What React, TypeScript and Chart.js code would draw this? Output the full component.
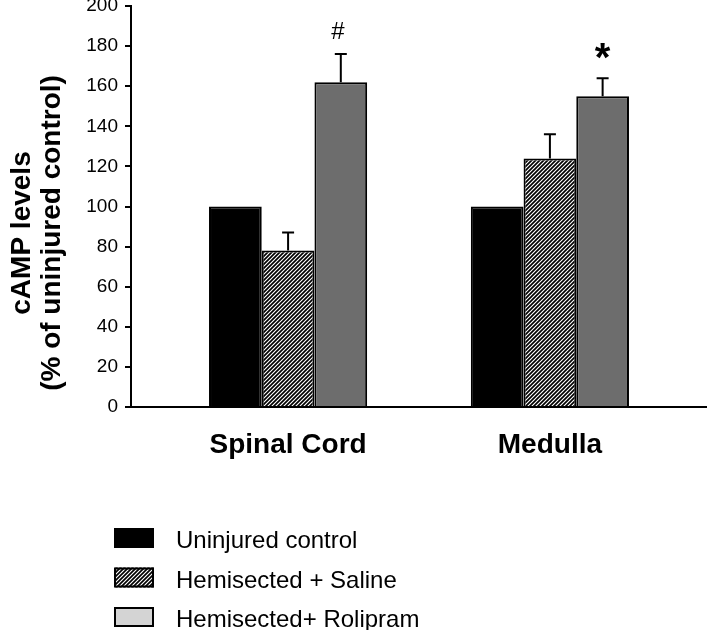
import React, { useEffect, useRef } from 'react';
import { Chart, registerables } from 'chart.js';

Chart.register(...registerables);

// ---- data ----
const categories = ['Spinal Cord', 'Medulla'];
const categoryPositions = [0.6, 1.6];
const seriesNames = ['Uninjured control', 'Hemisected + Saline', 'Hemisected+ Rolipram'];
const uninjuredValues = [100, 100];
const salineValues = [78, 124];
const rolipramValues = [162, 155];
const uninjuredErrors = [0, 0];
const salineErrors = [9, 12];
const rolipramErrors = [14, 9];
const rolipramMarks = ['#', '*'];
const yTickValues = [0, 20, 40, 60, 80, 100, 120, 140, 160, 180, 200];
const yTitleLines = ['cAMP levels', '(% of uninjured control)'];

const seriesValues = [uninjuredValues, salineValues, rolipramValues];
const seriesErrors = [uninjuredErrors, salineErrors, rolipramErrors];

const FONT = "'Liberation Sans', Arial, Helvetica, sans-serif";

function makeHatch(ctx: CanvasRenderingContext2D) {
  const s = 4;
  const p = document.createElement('canvas');
  p.width = s;
  p.height = s;
  const c = p.getContext('2d')!;
  c.fillStyle = '#ffffff';
  c.fillRect(0, 0, s, s);
  c.strokeStyle = '#000000';
  c.lineWidth = 1.7;
  c.beginPath();
  c.moveTo(0, s);
  c.lineTo(s, 0);
  c.moveTo(-1, 1);
  c.lineTo(1, -1);
  c.moveTo(s - 1, s + 1);
  c.lineTo(s + 1, s - 1);
  c.stroke();
  return ctx.createPattern(p, 'repeat')!;
}

export default function App() {
  const ref = useRef<HTMLCanvasElement | null>(null);

  useEffect(() => {
    const canvas = ref.current;
    if (!canvas) return;
    const ctx = canvas.getContext('2d')!;
    const hatch = makeHatch(ctx);
    const barFills: any[] = ['#000000', hatch, '#6d6d6d'];
    const legendFills: any[] = ['#000000', hatch, '#d4d4d4'];

    const errorBars = {
      id: 'errorBars',
      afterDatasetsDraw(chart: any) {
        const c = chart.ctx;
        const y = chart.scales.y;
        seriesErrors.forEach((errs, k) => {
          const meta = chart.getDatasetMeta(k);
          meta.data.forEach((bar: any, i: number) => {
            const e = errs[i];
            if (!e) return;
            const v = seriesValues[k][i];
            const yTop = y.getPixelForValue(v + e);
            const yBase = y.getPixelForValue(v);
            c.save();
            c.strokeStyle = '#000';
            c.lineWidth = 2;
            c.beginPath();
            c.moveTo(bar.x, yBase);
            c.lineTo(bar.x, yTop);
            c.moveTo(bar.x - 6, yTop);
            c.lineTo(bar.x + 6, yTop);
            c.stroke();
            c.restore();
          });
        });
        // significance marks above rolipram bars
        const meta = chart.getDatasetMeta(2);
        meta.data.forEach((bar: any, i: number) => {
          const mark = rolipramMarks[i];
          if (!mark) return;
          const yTop = y.getPixelForValue(rolipramValues[i] + rolipramErrors[i]);
          c.save();
          c.fillStyle = '#000';
          c.textAlign = 'center';
          c.textBaseline = 'alphabetic';
          if (mark === '*') {
            c.font = `bold 40px ${FONT}`;
            c.fillText(mark, bar.x, yTop - 7);
          } else {
            c.font = `24px ${FONT}`;
            c.fillText(mark, bar.x - 3, yTop - 15);
          }
          c.restore();
        });
      },
    };

    const yTitle = {
      id: 'yTitle',
      afterDraw(chart: any) {
        const c = chart.ctx;
        const cy = 233;
        const baselines = [30, 60];
        c.save();
        c.fillStyle = '#000';
        c.font = `bold 28px ${FONT}`;
        c.textAlign = 'center';
        c.textBaseline = 'alphabetic';
        yTitleLines.forEach((line, i) => {
          c.save();
          c.translate(baselines[i], cy);
          c.rotate(-Math.PI / 2);
          c.fillText(line, 0, 0);
          c.restore();
        });
        c.restore();
      },
    };

    const legendBox = {
      id: 'legendBox',
      afterDraw(chart: any) {
        const c = chart.ctx;
        const left = 114;
        const top = 528;
        const rowGap = 39.5;
        const w = 40;
        const h = 20;
        c.save();
        seriesNames.forEach((name, k) => {
          const yTop = top + k * rowGap;
          c.fillStyle = legendFills[k];
          c.fillRect(left, yTop, w, h);
          c.strokeStyle = '#000';
          c.lineWidth = 2;
          c.strokeRect(left + 1, yTop + 1, w - 2, h - 2);
          c.fillStyle = '#000';
          c.font = `24px ${FONT}`;
          c.textAlign = 'left';
          c.textBaseline = 'alphabetic';
          c.fillText(name, 176, yTop + h);
        });
        c.restore();
      },
    };

    const chart = new Chart(canvas, {
      type: 'bar',
      data: {
        datasets: seriesNames.map((name, k) => ({
          label: name,
          data: categoryPositions.map((x, i) => ({ x, y: seriesValues[k][i] })),
          backgroundColor: barFills[k],
          borderColor: '#000000',
          borderWidth: 2,
          categoryPercentage: 0.604,
          barPercentage: 1.0,
        })),
      },
      options: {
        animation: false,
        responsive: false,
        maintainAspectRatio: false,
        devicePixelRatio: 1,
        layout: { padding: { top: 6, left: 0, right: 0, bottom: 0 } },
        plugins: {
          legend: { display: false },
          tooltip: { enabled: false },
          title: { display: false },
        },
        scales: {
          x: {
            type: 'linear',
            min: 0,
            max: 2.2,
            offset: false,
            grid: { display: false, drawTicks: false },
            border: { display: true, color: '#000', width: 2 },
            afterBuildTicks: (s: any) => {
              s.ticks = categoryPositions.map((v) => ({ value: v }));
            },
            afterFit: (s: any) => {
              s.height = 223;
              s.paddingLeft = 0;
              s.paddingRight = 0;
            },
            ticks: {
              autoSkip: false,
              maxRotation: 0,
              minRotation: 0,
              padding: 21,
              color: '#000',
              font: { family: FONT, size: 28, weight: 'bold' },
              callback: (_v: any, i: number) => categories[i],
            },
          },
          y: {
            min: 0,
            max: 200,
            afterBuildTicks: (s: any) => {
              s.ticks = yTickValues.map((v) => ({ value: v }));
            },
            afterFit: (s: any) => {
              s.width = 131;
              s.paddingTop = 0;
              s.paddingBottom = 0;
            },
            grid: {
              drawOnChartArea: false,
              drawTicks: true,
              tickLength: 6,
              color: '#000',
              lineWidth: 2,
            },
            border: { display: true, color: '#000', width: 2 },
            ticks: {
              padding: 7,
              color: '#000',
              font: { family: FONT, size: 19 },
            },
          },
        },
      } as any,
      plugins: [errorBars, yTitle, legendBox],
    });

    return () => chart.destroy();
  }, []);

  return (
    <div
      style={{
        position: 'fixed',
        left: 0,
        top: 0,
        width: 707,
        height: 630,
        background: '#ffffff',
      }}
    >
      <canvas ref={ref} width={707} height={630} style={{ display: 'block', width: 707, height: 630 }} />
    </div>
  );
}
